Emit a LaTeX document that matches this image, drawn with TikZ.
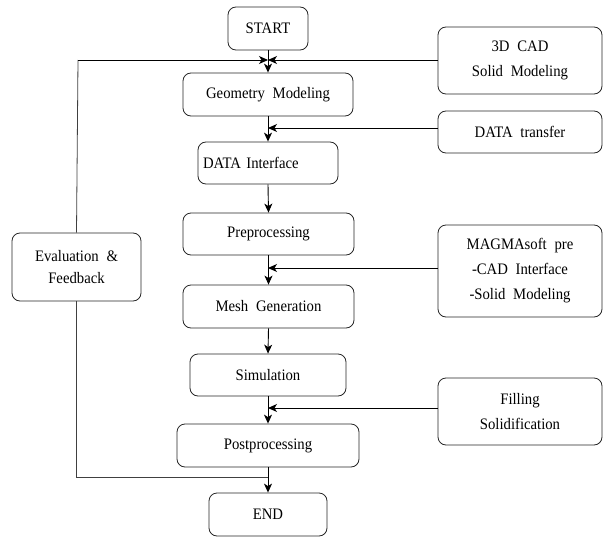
\documentclass[tikz,border=0pt]{standalone}
\usepackage{fontspec}
\setmainfont{Liberation Serif}[FakeStretch=0.92, WordSpace=2.1]
\usetikzlibrary{arrows.meta,calc}
\begin{document}
\begin{tikzpicture}[x=1pt,y=-1pt,
  box/.style={draw=black!85, rounded corners=8pt, line width=0.8pt, inner sep=0pt, align=center,
    font=\fontsize{16}{25}\selectfont},
  arr/.style={-{Stealth[length=9pt,width=8pt,inset=2.5pt]}, line width=0.9pt, draw=black},
  ln/.style={line width=0.8pt, draw=black!75}]
\useasboundingbox (0,0) rectangle (603,538);
% main column
\node[box, minimum width=80pt, minimum height=43pt] (start) at (268,28.5) {START};
\node[box, minimum width=170pt, minimum height=43pt] (geo) at (268,94.5) {Geometry Modeling};
\node[box, text width=130pt, align=left, inner xsep=5pt, minimum height=42pt] (di) at (268,163) {DATA Interface};
\node[box, minimum width=171pt, minimum height=42pt] (pre) at (268.5,234) {Preprocessing};
\node[box, minimum width=171pt, minimum height=43pt] (mesh) at (268.5,306.5) {Mesh Generation};
\node[box, minimum width=156pt, minimum height=42pt] (sim) at (268,375) {Simulation};
\node[box, minimum width=182pt, minimum height=43pt] (post) at (268,445.5) {Postprocessing};
\node[box, minimum width=118pt, minimum height=43pt] (end) at (268,514.5) {END};
% side boxes
\node[box, minimum width=164pt, minimum height=67pt] (cad) at (520,60.5) {3D CAD\\Solid Modeling};
\node[box, minimum width=164pt, minimum height=42pt] (dt) at (520,132) {DATA transfer};
\node[box, minimum width=164pt, minimum height=92pt] (magma) at (520,271) {MAGMAsoft pre\\-CAD Interface\\-Solid Modeling};
\node[box, minimum width=164pt, minimum height=67pt] (fill) at (520,411.5) {Filling\\Solidification};
\node[box, minimum width=129pt, minimum height=68pt, font=\fontsize{16}{22}\selectfont] (eval) at (76.5,267) {Evaluation \&\\Feedback};
% junction coordinates on main line
\coordinate (j1) at (268,60);
\coordinate (j2) at (268,128);
\coordinate (j3) at (268,268);
\coordinate (j4) at (268,408);
\coordinate (fb) at (268,477);
\coordinate (lc) at (78,60);
% main flow
\draw[arr] (start.south) -- (geo.north);
\draw[arr] (geo.south) -- (di.north);
\draw[arr] (di.south) -- (pre.north);
\draw[arr] (pre.south) -- (mesh.north);
\draw[arr] (mesh.south) -- (sim.north);
\draw[arr] (sim.south) -- (post.north);
\draw[arr] (post.south) -- (end.north);
% side inputs
\draw[arr] (cad.west |- j1) -- (j1);
\draw[arr] (dt.west |- j2) -- (j2);
\draw[arr] (magma.west |- j3) -- (j3);
\draw[arr] (fill.west |- j4) -- (j4);
% feedback loop
\draw[ln] (fb) -| (eval.south);
\draw[ln] (eval.north) -- (lc);
\draw[arr] (lc) -- (j1);
\end{tikzpicture}
\end{document}
